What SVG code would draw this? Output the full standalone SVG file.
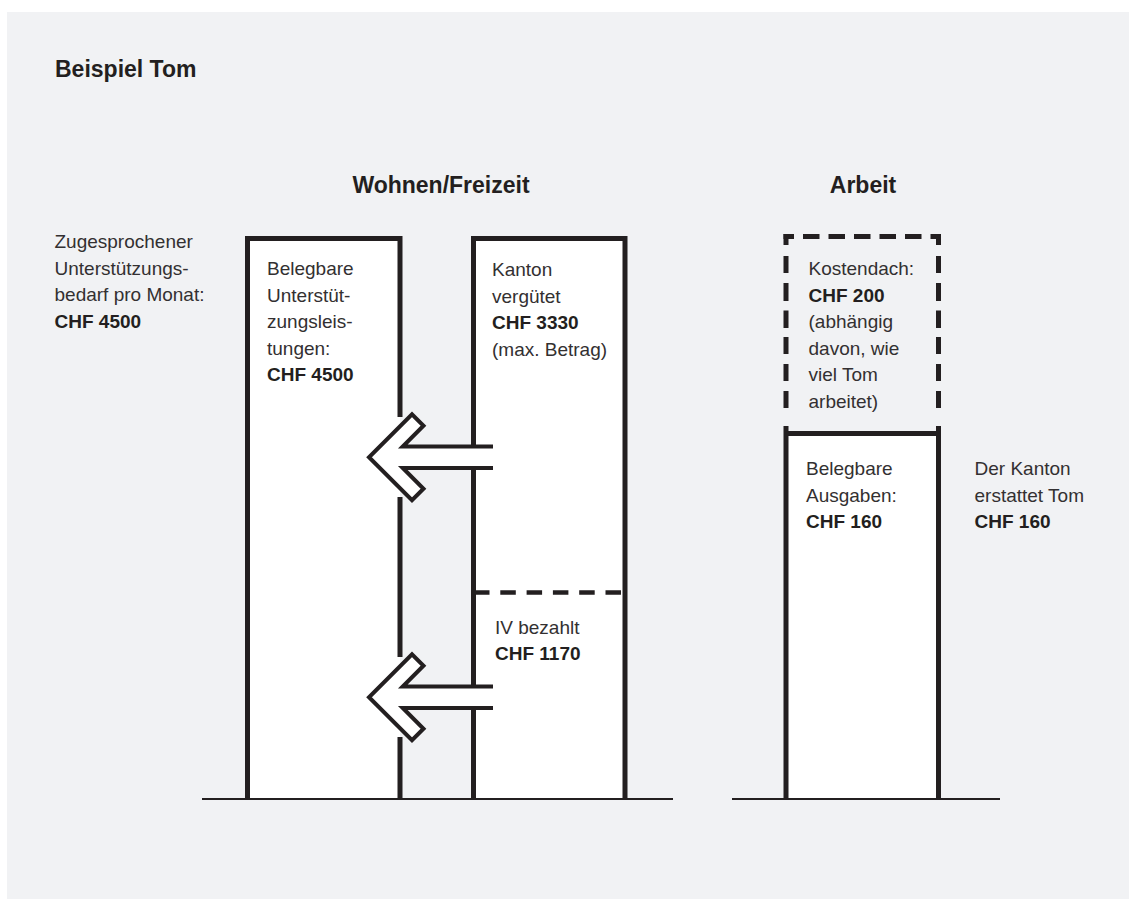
<svg xmlns="http://www.w3.org/2000/svg" width="1129" height="899" viewBox="0 0 1129 899">
<style>
.t{font-family:"Liberation Sans",Arial,sans-serif;font-size:19px;fill:#333031}
.b{font-weight:bold;fill:#231f20}
.h{font-family:"Liberation Sans",Arial,sans-serif;font-size:23px;font-weight:bold;fill:#231f20}
.box{fill:#fff;stroke:#231f20;stroke-width:5;stroke-linejoin:miter}
.ln{fill:none;stroke:#231f20;stroke-width:5;stroke-linejoin:miter}
.base{fill:none;stroke:#231f20;stroke-width:2}
.dash{fill:none;stroke:#231f20;stroke-width:4.5}
.arr{fill:#fff;stroke:none}
.arrs{fill:none;stroke:#231f20;stroke-width:4;stroke-linejoin:miter}
</style>
<rect x="7" y="12" width="1122" height="887" fill="#f1f2f4"/>
<text class="h" x="55" y="77">Beispiel Tom</text>
<text class="h" x="441" y="193" text-anchor="middle">Wohnen/Freizeit</text>
<text class="h" x="863" y="193" text-anchor="middle">Arbeit</text>

<g id="label-bedarf">
<text class="t" x="54.5" y="248">Zugesprochener</text>
<text class="t" x="54.5" y="274.5">Unterstützungs-</text>
<text class="t" x="54.5" y="301">bedarf pro Monat:</text>
<text class="t b" x="54.5" y="327.5">CHF 4500</text>
</g>

<g id="box-leistungen">
<rect x="247.5" y="238.5" width="152.5" height="560.5" fill="#fff"/>
<path class="ln" d="M247.5,799 V238.5 H400 V417 M400,497 V657 M400,737 V799"/>
<text class="t" x="267" y="275">Belegbare</text>
<text class="t" x="267" y="301.5">Unterstüt-</text>
<text class="t" x="267" y="328">zungsleis-</text>
<text class="t" x="267" y="354.5">tungen:</text>
<text class="t b" x="267" y="381">CHF 4500</text>
</g>

<g id="box-kanton">
<path class="box" d="M473.5,799 V238.5 H625 V799"/>
<line class="dash" x1="474" y1="592.5" x2="623" y2="592.5" stroke-dasharray="15.5 10.8"/>
<text class="t" x="492" y="276">Kanton</text>
<text class="t" x="492" y="302.5">vergütet</text>
<text class="t b" x="492" y="329">CHF 3330</text>
<text class="t" x="492" y="355.5">(max. Betrag)</text>
<text class="t" x="495" y="633.5">IV bezahlt</text>
<text class="t b" x="495" y="660">CHF 1170</text>
</g>

<g id="box-kostendach">
<line class="ln" x1="783.5" y1="236.5" x2="941" y2="236.5" stroke-dasharray="10.5 9 16.5 9 16.5 9 16.5 9 16.5 9 16.5 9 10.5"/>
<line class="ln" x1="786" y1="234" x2="786" y2="430" stroke-dasharray="11 11 17 10 18 9.5 17.5 9 17 10 17 10 17 100"/>
<line class="ln" x1="938.5" y1="234" x2="938.5" y2="430" stroke-dasharray="11 11 17 10 18 9.5 17.5 9 17 10 17 10 17 100"/>
<text class="t" x="808.5" y="275">Kostendach:</text>
<text class="t b" x="808.5" y="301.5">CHF 200</text>
<text class="t" x="808.5" y="328">(abhängig</text>
<text class="t" x="808.5" y="354.5">davon, wie</text>
<text class="t" x="808.5" y="381">viel Tom</text>
<text class="t" x="808.5" y="407.5">arbeitet)</text>
</g>

<g id="box-ausgaben">
<rect x="786" y="433.5" width="152.5" height="365.5" fill="#fff"/>
<path class="ln" d="M786,426 V799 M938.5,426 V799 M786,433.5 H938.5"/>
<text class="t" x="806" y="475">Belegbare</text>
<text class="t" x="806" y="501.5">Ausgaben:</text>
<text class="t b" x="806" y="528">CHF 160</text>
</g>

<g id="label-erstattet">
<text class="t" x="974.5" y="475">Der Kanton</text>
<text class="t" x="974.5" y="501.5">erstattet Tom</text>
<text class="t b" x="974.5" y="528">CHF 160</text>
</g>

<g id="connectors">
<line class="base" x1="202" y1="799" x2="673" y2="799"/>
<line class="base" x1="732" y1="799" x2="1000" y2="799"/>
<g id="arrow-kanton">
<polygon class="arr" points="369,457.25 412,414.25 423.5,425.75 402.75,446.5 493,446.5 493,468 402.75,468 423.5,488.75 412,500.25"/>
<polyline class="arrs" points="493,446.5 402.75,446.5 423.5,425.75 412,414.25 369,457.25 412,500.25 423.5,488.75 402.75,468 493,468"/>
</g>
<g id="arrow-iv" transform="translate(0,240)">
<polygon class="arr" points="369,457.25 412,414.25 423.5,425.75 402.75,446.5 493,446.5 493,468 402.75,468 423.5,488.75 412,500.25"/>
<polyline class="arrs" points="493,446.5 402.75,446.5 423.5,425.75 412,414.25 369,457.25 412,500.25 423.5,488.75 402.75,468 493,468"/>
</g>
</g>
</svg>
